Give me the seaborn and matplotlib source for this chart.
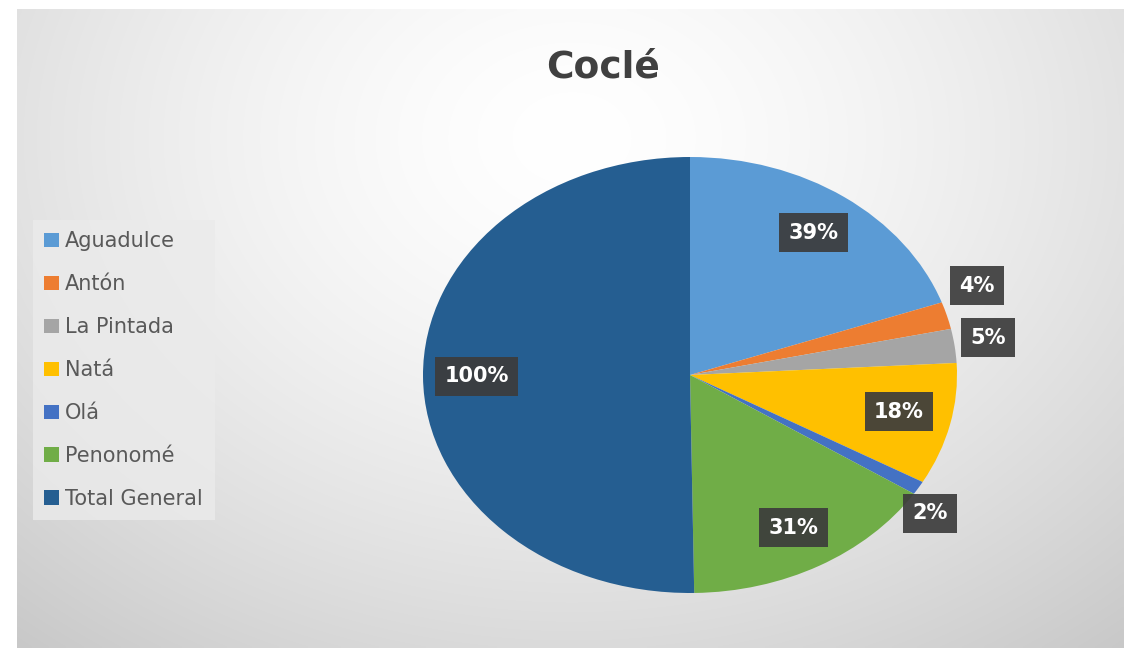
import numpy as np
import seaborn as sns
import matplotlib.pyplot as plt

sns.set_style("white")
plt.rcParams['font.family'] = ['DejaVu Sans']

# data
municipios = ['Aguadulce', 'Antón', 'La Pintada', 'Natá', 'Olá', 'Penonomé', 'Total General']
valores = [39, 4, 5, 18, 2, 31, 100]
colores = sns.color_palette(['#5B9BD5', '#ED7D31', '#A5A5A5', '#FFC000',
                             '#4472C4', '#70AD47', '#255E91'])

W, H = 1124, 648
fig = plt.figure(figsize=(W / 100, H / 100), dpi=100)
fig.patch.set_facecolor('white')

# background gradient of the chart area
bg = fig.add_axes([17 / W, 0, 1 - 17 / W, 1 - 9 / H])
yy, xx = np.mgrid[0:200, 0:350]
d = np.sqrt(((xx - 175) / 300) ** 2 + ((yy - 40) / 230) ** 2)
shade = 1 - 0.25 * np.clip(d, 0, 1) ** 1.5
bg.imshow(np.dstack([shade, shade, shade]), aspect='auto', interpolation='bilinear')
bg.axis('off')

# pie (stretched like the picture)
cx, cy, rx, ry = 690, 375, 267, 218
ax = fig.add_axes([(cx - rx) / W, 1 - (cy + ry) / H, 2 * rx / W, 2 * ry / H])
wedges, _ = ax.pie(valores, colors=colores, startangle=90, counterclock=False,
                   wedgeprops=dict(linewidth=0))
ax.set_aspect('auto')
ax.set_xlim(-1, 1)
ax.set_ylim(-1, 1)
ax.axis('off')

# label placement (distance from center, small angle nudge)
dist = [0.8, 1.15, 1.13, 0.8, 1.1, 0.8, 0.8]
nudge = [0, 5, 1, 1, -4, 0, 0]
for w, v, r, n in zip(wedges, valores, dist, nudge):
    a = np.deg2rad((w.theta1 + w.theta2) / 2 + n)
    ax.text(r * np.cos(a), r * np.sin(a), f'{v}%', ha='center', va='center',
            color='white', fontsize=15, fontweight='bold',
            bbox=dict(boxstyle='square,pad=0.45', facecolor='#3c3c3c',
                      edgecolor='none', alpha=0.92))

fig.text(603 / W, 1 - 68 / H, 'Coclé', ha='center', va='center',
         fontsize=27, fontweight='bold', color='#404040')

leg = fig.legend(wedges, municipios, loc='upper left',
                 bbox_to_anchor=(33 / W, 1 - 220 / H), fontsize=15,
                 handlelength=0.7, handleheight=0.7, handletextpad=0.3,
                 labelspacing=1.1, borderpad=0.55, frameon=True, fancybox=False,
                 borderaxespad=0)
leg.get_frame().set_facecolor('#ebebeb')
leg.get_frame().set_edgecolor('none')
for t in leg.get_texts():
    t.set_color('#595959')

plt.savefig('out.png', dpi=100)
